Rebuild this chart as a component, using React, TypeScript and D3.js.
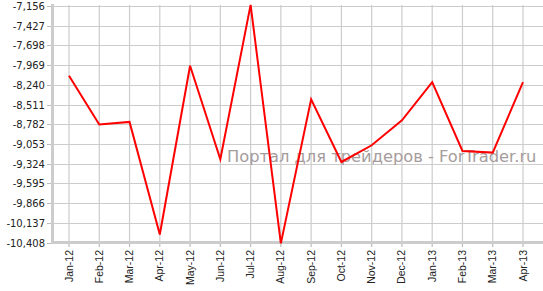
import React from "react";
import * as d3 from "d3";

const months = ["Jan-12","Feb-12","Mar-12","Apr-12","May-12","Jun-12","Jul-12","Aug-12","Sep-12","Oct-12","Nov-12","Dec-12","Jan-13","Feb-13","Mar-13","Apr-13"];
const values = [-8116,-8786,-8750,-10298,-7978,-9264,-7140,-10420,-8438,-9301,-9071,-8727,-8203,-9150,-9172,-8203];
const yTicks = [-7156,-7427,-7698,-7969,-8240,-8511,-8782,-9053,-9324,-9595,-9866,-10137,-10408];
const watermark = "Портал для трейдеров - ForTrader.ru";

const W = 543, H = 291;
const left = 53, top = 6, bottom = 242.5;

export default function App() {
  const x = d3.scalePoint<string>().domain(months).range([69, 523]);
  const y = d3.scaleLinear().domain([-10408, -7156]).range([bottom, top]);
  const fmt = d3.format(",");
  const line = d3.line<number>().x((_, i) => x(months[i])!).y(d => y(d));
  return (
    <svg width={W} height={H} style={{ position: "fixed", left: 0, top: 0, background: "#fff" }}>
      {yTicks.map(t => (
        <line key={"h" + t} x1={left} x2={W} y1={Math.round(y(t)) + 0.5} y2={Math.round(y(t)) + 0.5} stroke="#cccccc" strokeWidth={1} />
      ))}
      {months.map(m => (
        <line key={"v" + m} x1={x(m)!} x2={x(m)!} y1={top - 1} y2={bottom} stroke="#cccccc" strokeWidth={1.2} />
      ))}
      {yTicks.map(t => (
        <g key={"yt" + t}>
          <line x1={47} x2={left} y1={Math.round(y(t)) + 0.5} y2={Math.round(y(t)) + 0.5} stroke="#bbbbbb" />
          <text x={45} y={y(t) + 4} textAnchor="end" fontFamily="DejaVu Sans" fontSize={10} fill="#222">{fmt(t).replace("−", "-")}</text>
        </g>
      ))}
      {months.map(m => (
        <g key={"xt" + m}>
          <line x1={x(m)!} x2={x(m)!} y1={bottom} y2={247} stroke="#bbbbbb" strokeWidth={1.2} />
          <text transform={`translate(${x(m)! + 3.5},250) rotate(-90)`} textAnchor="end" fontFamily="Liberation Sans, Arial" fontSize={10.5} fill="#222">{m}</text>
        </g>
      ))}
      <line x1={left - 0.5} x2={left - 0.5} y1={top - 2} y2={bottom + 1.5} stroke="#cccccc" strokeWidth={3} />
      <line x1={left - 2} x2={W} y1={bottom} y2={bottom} stroke="#cccccc" strokeWidth={3} />
      <text x={227} y={162} fontFamily="DejaVu Sans" fontSize={16.3} fill="#a69c9c">{watermark}</text>
      <path d={line(values)!} fill="none" stroke="#ff0000" strokeWidth={2} strokeLinejoin="miter" />
    </svg>
  );
}
